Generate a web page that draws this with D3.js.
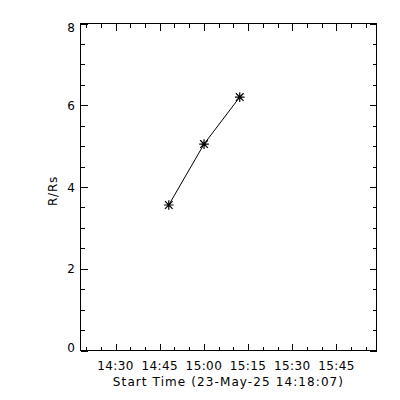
<!DOCTYPE html>
<html>
<head>
<meta charset="utf-8">
<script src="https://cdn.jsdelivr.net/npm/d3@7"></script>
<style>
  body { margin: 0; background: #fff; }
  text { font-family: "DejaVu Sans", sans-serif; fill: #000; }
</style>
</head>
<body>
<svg id="chart" width="400" height="400"></svg>
<script>
// data
var times = ['2025-05-23T14:48:05', '2025-05-23T15:00:03', '2025-05-23T15:12:10'];
var heights = [3.56, 5.05, 6.20];
var startLabel = 'Start Time (23-May-25 14:18:07)';
var yTicks = [0, 2, 4, 6, 8];

var parse = d3.utcParse('%Y-%m-%dT%H:%M:%S');
var points = times.map(function(t, i) { return { t: parse(t), r: heights[i] }; });

var plot = { left: 80.5, right: 376.5, top: 23.5, bottom: 350.5 };

var x = d3.scaleUtc()
	.domain([parse('2025-05-23T14:18:07'), parse('2025-05-23T15:58:35')])
	.range([plot.left, plot.right]);
var y = d3.scaleLinear()
	.domain([0, 8])
	.range([plot.bottom, plot.top]);

var svg = d3.select('#chart');

var major = d3.utcMinute.every(15).range(x.domain()[0], x.domain()[1]);
var minor = d3.utcMinute.every(5).range(x.domain()[0], x.domain()[1]);
var yMinor = d3.range(0, 8.01, 0.5);

var g = svg.append('g')
	.attr('stroke', '#000')
	.attr('stroke-width', 1)
	.attr('shape-rendering', 'crispEdges');

// frame
g.append('rect')
	.attr('x', plot.left).attr('y', plot.top)
	.attr('width', plot.right - plot.left)
	.attr('height', plot.bottom - plot.top)
	.attr('fill', 'none');

// x ticks, bottom and top
minor.forEach(function(d) {
	var len = major.some(function(m) { return +m === +d; }) ? 7 : 4;
	var px = Math.round(x(d)) + 0.5;
	g.append('line').attr('x1', px).attr('x2', px).attr('y1', plot.bottom).attr('y2', plot.bottom - len);
	g.append('line').attr('x1', px).attr('x2', px).attr('y1', plot.top).attr('y2', plot.top + len);
});

// y ticks, left and right
yMinor.forEach(function(d) {
	var len = (d % 2 === 0) ? 7 : 4;
	var py = Math.round(y(d)) + 0.5;
	g.append('line').attr('x1', plot.left).attr('x2', plot.left + len).attr('y1', py).attr('y2', py);
	g.append('line').attr('x1', plot.right).attr('x2', plot.right - len).attr('y1', py).attr('y2', py);
});

var fmt = d3.utcFormat('%H:%M');
svg.selectAll('.xlab')
	.data(major)
	.enter().append('text')
	.attr('x', function(d) { return x(d); })
	.attr('y', 370)
	.attr('text-anchor', 'middle')
	.attr('font-size', '12px')
	.attr('letter-spacing', '0.4px')
	.text(function(d) { return fmt(d); });

// end labels sit inside the axis range
svg.selectAll('.ylab')
	.data(yTicks)
	.enter().append('text')
	.attr('x', 75)
	.attr('y', function(d) {
		var c = y(d);
		if (d === 8) c += 4;
		if (d === 0) c -= 3.5;
		return c + 4.5;
	})
	.attr('text-anchor', 'end')
	.attr('font-size', '12px')
	.text(function(d) { return d; });

svg.append('text')
	.attr('x', (plot.left + plot.right) / 2)
	.attr('y', 386)
	.attr('text-anchor', 'middle')
	.attr('font-size', '12px')
	.attr('letter-spacing', '1.1px')
	.text(startLabel);

svg.append('text')
	.attr('transform', 'translate(57,191) rotate(-90)')
	.attr('text-anchor', 'middle')
	.attr('font-size', '12px')
	.attr('letter-spacing', '0.8px')
	.text('R/Rs');

// line through the points
var line = d3.line()
	.x(function(d) { return x(d.t); })
	.y(function(d) { return y(d.r); });

svg.append('path')
	.datum(points)
	.attr('d', line)
	.attr('fill', 'none')
	.attr('stroke', '#000')
	.attr('stroke-width', 1);

// asterisks
var s = 4.8;
var star = 'M' + (-s) + ',0L' + s + ',0M0,' + (-s) + 'L0,' + s +
	'M' + (-s * 0.8) + ',' + (-s * 0.8) + 'L' + (s * 0.8) + ',' + (s * 0.8) +
	'M' + (-s * 0.8) + ',' + (s * 0.8) + 'L' + (s * 0.8) + ',' + (-s * 0.8);
svg.selectAll('.pt')
	.data(points)
	.enter().append('path')
	.attr('transform', function(d) { return 'translate(' + x(d.t) + ',' + y(d.r) + ')'; })
	.attr('d', star)
	.attr('stroke', '#000')
	.attr('stroke-width', 1.2)
	.attr('fill', 'none');
</script>
</body>
</html>
